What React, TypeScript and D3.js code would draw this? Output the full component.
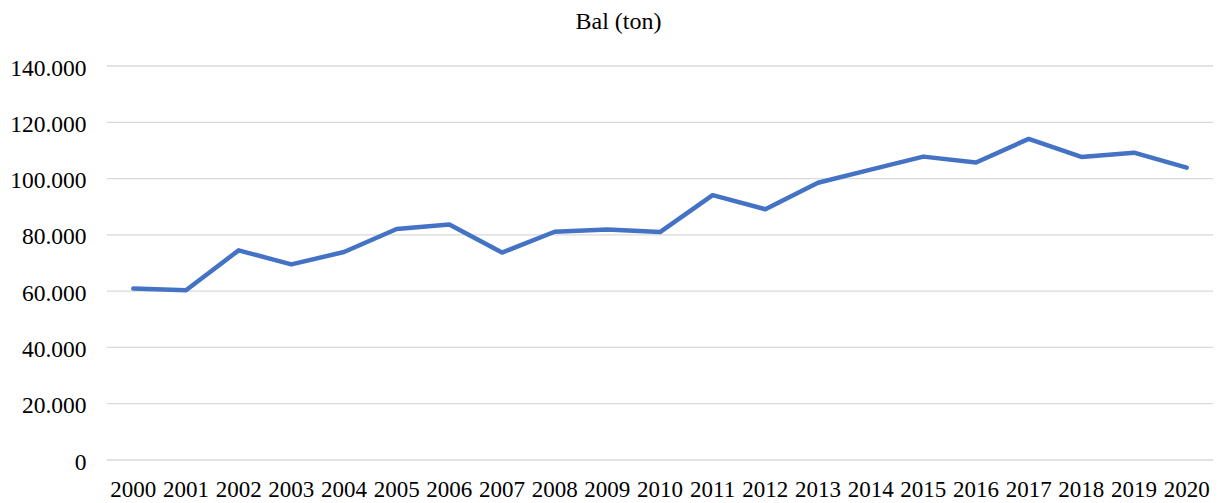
import React from "react";
import * as d3 from "d3";

const years = ["2000","2001","2002","2003","2004","2005","2006","2007","2008","2009","2010","2011","2012","2013","2014","2015","2016","2017","2018","2019","2020"];
const values = [60900, 60300, 74500, 69500, 73900, 82100, 83700, 73700, 81100, 81900, 81000, 94100, 89100, 98500, 103200, 107800, 105700, 114100, 107700, 109200, 103900];
const yTicks = [0, 20000, 40000, 60000, 80000, 100000, 120000, 140000];
const title = "Bal (ton)";

const W = 1223, H = 503;
const left = 107, right = 1213, top = 66, bottom = 460;
const FF = "Liberation Serif, Times New Roman, serif";

export default function App() {
  const x = d3.scalePoint<string>().domain(years).range([left, right]).padding(0.5);
  const y = d3.scaleLinear().domain([0, 140000]).range([bottom, top]);
  const fmt = (v: number) => v === 0 ? "0" : d3.format(",")(v).replace(/,/g, ".");
  const line = d3.line<number>().x((_, i) => x(years[i])!).y(d => y(d));
  return (
    <svg width={W} height={H} style={{ position: "absolute", left: 0, top: 0, background: "#fff", fontFamily: FF }}>
      <text x={618.5} y={28.5} textAnchor="middle" fill="#000" style={{ fontFamily: FF, fontSize: "24px" }}>{title}</text>
      {yTicks.map(t => (
        <g key={t}>
          <line x1={left} x2={right} y1={y(t)} y2={y(t)} stroke="#D9D9D9" strokeWidth={1.3} />
          <text x={86.5} y={y(t) + 9.5} textAnchor="end" fill="#000" style={{ fontFamily: FF, fontSize: "23.5px" }}>{fmt(t)}</text>
        </g>
      ))}
      {years.map(yr => (
        <text key={yr} x={x(yr)!} y={496.5} textAnchor="middle" fill="#000" style={{ fontFamily: FF, fontSize: "23px" }}>{yr}</text>
      ))}
      <path d={line(values)!} fill="none" stroke="#4472C4" strokeWidth={4.5} strokeLinejoin="round" strokeLinecap="round" />
    </svg>
  );
}
